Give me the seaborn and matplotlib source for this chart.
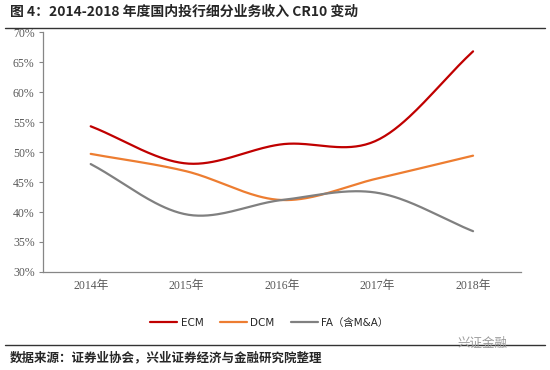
import numpy as np
import pandas as pd
import matplotlib
matplotlib.use("Agg")
import matplotlib.pyplot as plt
import seaborn as sns
from matplotlib.lines import Line2D

years = ["2014年", "2015年", "2016年", "2017年", "2018年"]
ecm = [54.3, 48.1, 51.3, 52.0, 66.8]
dcm = [49.7, 46.8, 42.0, 45.6, 49.4]
fa = [48.0, 39.6, 42.0, 43.2, 36.8]
series_names = ["ECM", "DCM", "FA（含M&A）"]
colors = ["#C00000", "#ED7D31", "#808080"]

sns.set_theme(style="white")
plt.rcParams['font.family'] = ['Liberation Serif', 'Noto Sans CJK SC', 'DejaVu Sans']


def smooth(xs, ys, n=40):
    # Catmull-Rom style smoothing (like Excel's smoothed line) for drawing
    xs = np.asarray(xs, float)
    ys = np.asarray(ys, float)
    px = np.concatenate([[2 * xs[0] - xs[1]], xs, [2 * xs[-1] - xs[-2]]])
    py = np.concatenate([[2 * ys[0] - ys[1]], ys, [2 * ys[-1] - ys[-2]]])
    ox, oy = [], []
    for i in range(1, len(px) - 2):
        t = np.linspace(0, 1, n, endpoint=(i == len(px) - 3))
        for P, out in ((px, ox), (py, oy)):
            p0, p1, p2, p3 = P[i - 1], P[i], P[i + 1], P[i + 2]
            b1 = p1 + (p2 - p0) / 6
            b2 = p2 - (p3 - p1) / 6
            out.extend((1 - t) ** 3 * p1 + 3 * (1 - t) ** 2 * t * b1 + 3 * (1 - t) * t ** 2 * b2 + t ** 3 * p2)
    return np.array(ox), np.array(oy)


frames = []
for name, vals in zip(series_names, [ecm, dcm, fa]):
    sx, sy = smooth(range(len(years)), vals)
    frames.append(pd.DataFrame({"x": sx, "y": sy, "s": name}))
df = pd.concat(frames, ignore_index=True)

fig = plt.figure(figsize=(5.5, 3.7), dpi=100)
ax = fig.add_axes([0.078, 0.265, 0.869, 0.648])
sns.lineplot(data=df, x="x", y="y", hue="s", palette=dict(zip(series_names, colors)),
             sort=False, estimator=None, linewidth=1.6, ax=ax, legend=False)

ax.set_xlim(-0.5, len(years) - 0.5)
ax.set_ylim(30, 70)
ax.set_yticks(range(30, 71, 5))
ax.set_yticklabels([f"{v}%" for v in range(30, 71, 5)], fontsize=8.5, color="#595959")
ax.set_xticks(range(len(years)))
ax.set_xticklabels(years, fontsize=8.5, color="#595959")
ax.set_xticks(np.arange(-0.5, len(years), 1.0), minor=True)
ax.tick_params(axis="x", which="major", length=0, pad=6)
ax.tick_params(axis="x", which="minor", length=3, color="#868686", width=0.8, direction="out")
ax.tick_params(axis="y", length=3, color="#868686", width=0.8, direction="out", pad=3, left=True)
ax.set_xlabel("")
ax.set_ylabel("")
for side in ["top", "right"]:
    ax.spines[side].set_visible(False)
for side in ["left", "bottom"]:
    ax.spines[side].set_color("#868686")
    ax.spines[side].set_linewidth(0.9)

handles = [Line2D([0], [0], color=c, lw=1.6) for c in colors]
fig.legend(handles, series_names, loc="center", bbox_to_anchor=(0.49, 0.127), ncol=3,
           frameon=False, handlelength=2.6, handletextpad=0.3, columnspacing=1.6,
           prop={"family": ["DejaVu Sans", "Noto Sans CJK SC"], "size": 7.5})

fig.text(0.018, 0.967, "图 4：2014-2018 年度国内投行细分业务收入 CR10 变动", fontsize=10,
         fontweight="bold", family=["Noto Sans CJK SC", "DejaVu Sans"], va="center", ha="left")
fig.add_artist(Line2D([0.009, 0.991], [0.925, 0.925], color="#333333", lw=1.0))
fig.add_artist(Line2D([0.009, 0.991], [0.068, 0.068], color="#333333", lw=1.0))
fig.text(0.018, 0.033, "数据来源：证券业协会，兴业证券经济与金融研究院整理", fontsize=9,
         fontweight="bold", family=["Noto Sans CJK SC", "DejaVu Sans"], va="center", ha="left")
fig.text(0.922, 0.073, "兴证金融", fontsize=9, color="#9a9a9a",
         family=["Noto Sans CJK SC", "DejaVu Sans"], va="center", ha="right")

fig.savefig("out.png", dpi=100, facecolor="white")
